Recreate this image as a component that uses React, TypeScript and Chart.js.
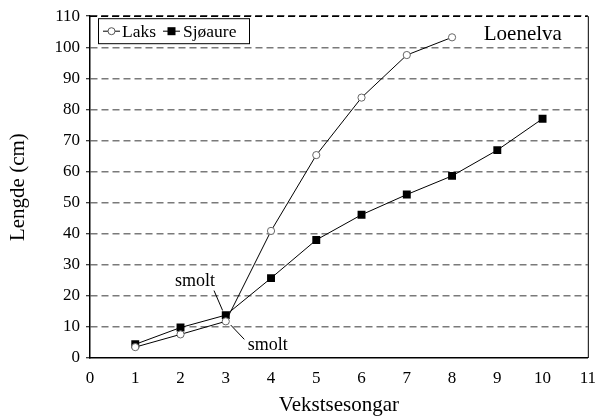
import React, { useEffect, useRef } from "react";
import { Chart, registerables } from "chart.js";

Chart.register(...registerables);

const seasons = [1, 2, 3, 4, 5, 6, 7, 8, 9, 10];
const laks = [3.5, 7.6, 11.8, 40.9, 65.3, 83.8, 97.5, 103.2];
const sjoaure = [4.4, 9.8, 13.8, 25.7, 38.0, 46.1, 52.6, 58.6, 66.9, 77.0];
const seriesNames = ["Laks", "Sjøaure"];
const riverName = "Loenelva";
const xTitle = "Vekstsesongar";
const yTitle = "Lengde (cm)";
const smoltLabels = [
  { text: "smolt", x: 2.32, y: 24.6, lx1: 2.74, ly1: 21.7, lx2: 2.93, ly2: 15.3 },
  { text: "smolt", x: 3.93, y: 4.0, lx1: 3.11, ly1: 10.6, lx2: 3.41, ly2: 6.0 },
];

const SERIF = "'Liberation Serif', 'DejaVu Serif', serif";

const overlay = {
  id: "overlay",
  beforeDatasetsDraw(chart: any) {
    const { ctx, chartArea: a } = chart;
    ctx.save();
    ctx.strokeStyle = "#000";
    ctx.lineWidth = 1;
    ctx.beginPath();
    ctx.moveTo(a.right + 0.5, a.top);
    ctx.lineTo(a.right + 0.5, a.bottom);
    ctx.stroke();
    ctx.lineWidth = 1.5;
    ctx.setLineDash([7, 4]);
    ctx.beginPath();
    ctx.moveTo(a.left, a.top);
    ctx.lineTo(a.right, a.top);
    ctx.stroke();
    ctx.setLineDash([]);
    ctx.restore();
  },
  afterDatasetsDraw(chart: any) {
    const { ctx, chartArea: a, scales } = chart;
    const xs = scales.x;
    const ys = scales.y;
    ctx.save();
    ctx.font = `18px ${SERIF}`;
    ctx.fillStyle = "#000";
    ctx.textAlign = "center";
    ctx.textBaseline = "middle";
    ctx.strokeStyle = "#000";
    ctx.lineWidth = 1;
    for (const s of smoltLabels) {
      ctx.fillText(s.text, xs.getPixelForValue(s.x), ys.getPixelForValue(s.y));
      ctx.beginPath();
      ctx.moveTo(xs.getPixelForValue(s.lx1), ys.getPixelForValue(s.ly1));
      ctx.lineTo(xs.getPixelForValue(s.lx2), ys.getPixelForValue(s.ly2));
      ctx.stroke();
    }
    ctx.font = `21px ${SERIF}`;
    ctx.fillText(riverName, a.right - 65, a.top + 18);
    // Legend box
    const bx = a.left + 8;
    const by = a.top + 2;
    const bw = 151;
    const bh = 25;
    ctx.fillStyle = "#fff";
    ctx.fillRect(bx, by, bw, bh);
    ctx.strokeStyle = "#000";
    ctx.lineWidth = 1;
    ctx.strokeRect(bx + 0.5, by + 0.5, bw, bh);
    const cy = by + bh / 2 + 0.5;
    ctx.font = `17.5px ${SERIF}`;
    ctx.textAlign = "left";
    ctx.fillStyle = "#000";
    ctx.beginPath();
    ctx.moveTo(bx + 5, cy);
    ctx.lineTo(bx + 22, cy);
    ctx.stroke();
    ctx.fillStyle = "#fff";
    ctx.strokeStyle = "#555";
    ctx.beginPath();
    ctx.arc(bx + 13.5, cy, 3.5, 0, Math.PI * 2);
    ctx.fill();
    ctx.stroke();
    ctx.fillStyle = "#000";
    ctx.fillText(seriesNames[0], bx + 24, cy + 1);
    ctx.strokeStyle = "#000";
    ctx.beginPath();
    ctx.moveTo(bx + 65, cy);
    ctx.lineTo(bx + 82, cy);
    ctx.stroke();
    ctx.fillRect(bx + 69.5, cy - 4, 8, 8);
    ctx.fillText(seriesNames[1], bx + 85, cy + 1);
    ctx.restore();
  },
};

export default function App() {
  const ref = useRef<HTMLCanvasElement>(null);
  useEffect(() => {
    document.body.style.margin = "0";
    const chart = new Chart(ref.current!, {
      type: "line",
      data: {
        datasets: [
          {
            label: seriesNames[0],
            data: laks.map((v, i) => ({ x: seasons[i], y: v })),
            borderColor: "#000",
            borderWidth: 1,
            pointStyle: "circle",
            pointRadius: 3.6,
            pointBackgroundColor: "#fff",
            pointBorderColor: "#666",
            pointBorderWidth: 1,
            tension: 0,
          },
          {
            label: seriesNames[1],
            data: sjoaure.map((v, i) => ({ x: seasons[i], y: v })),
            borderColor: "#000",
            borderWidth: 1,
            pointStyle: "rect",
            pointRadius: 5.6,
            pointBackgroundColor: "#000",
            pointBorderColor: "#000",
            pointBorderWidth: 0,
            tension: 0,
          },
        ],
      },
      options: {
        animation: false,
        responsive: false,
        layout: { padding: { left: 0, right: 8, top: 16, bottom: 0 } },
        plugins: { legend: { display: false }, tooltip: { enabled: false } },
        scales: {
          x: {
            type: "linear",
            min: 0,
            max: 11,
            afterFit: (s: any) => {
              s.height = 59;
            },
            ticks: {
              stepSize: 1,
              padding: 10,
              color: "#000",
              font: { family: SERIF, size: 17 },
            },
            grid: { display: false, drawTicks: false },
            border: { display: true, color: "#000", width: 1.5 },
            title: {
              display: true,
              text: xTitle,
              color: "#000",
              font: { family: SERIF, size: 21 },
              padding: { top: 0, bottom: -1 },
            },
          },
          y: {
            type: "linear",
            min: 0,
            max: 110,
            afterFit: (s: any) => {
              s.width = 90;
            },
            ticks: {
              stepSize: 10,
              padding: 6,
              color: "#000",
              font: { family: SERIF, size: 17 },
            },
            grid: {
              drawTicks: true,
              tickLength: 4,
              tickColor: "#000",
              tickWidth: 1,
              tickBorderDash: [],
              color: (c: any) => (c.tick && c.tick.value === 0 ? "rgba(0,0,0,0)" : "#7a7a7a"),
              lineWidth: 1.5,
            },
            border: { display: true, color: "#000", width: 1.5, dash: [7, 4] },
            title: {
              display: true,
              text: yTitle,
              color: "#000",
              font: { family: SERIF, size: 21 },
              padding: { top: 6, bottom: 0 },
            },
          },
        },
      },
      plugins: [overlay],
    } as any);
    return () => chart.destroy();
  }, []);
  return (
    <div style={{ width: 606, height: 417 }}>
      <canvas ref={ref} width={606} height={417} />
    </div>
  );
}
